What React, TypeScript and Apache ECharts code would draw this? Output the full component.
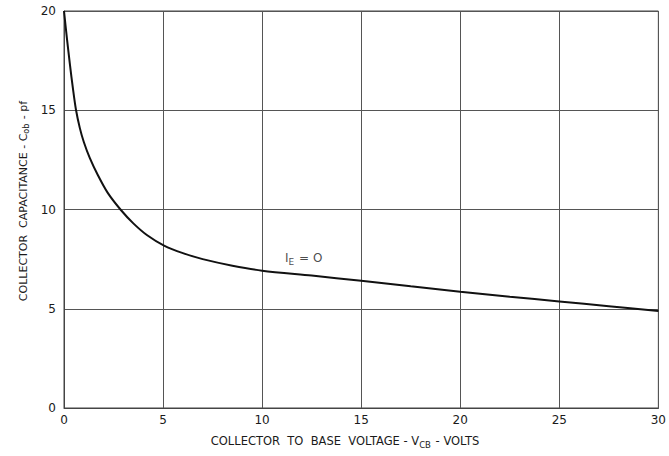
import React, { useEffect, useRef } from "react";
import * as echarts from "echarts";

const vcb = [0, 0.15, 0.3, 0.45, 0.6, 0.8, 1.0, 1.3, 1.7, 2.2, 2.85, 3.5, 4.2, 5.05, 6, 7, 8.5, 10, 12.5, 15, 17.5, 20, 22.5, 25, 27.5, 30];
const cob = [20, 18.6, 17.3, 16.1, 15.05, 14.1, 13.4, 12.6, 11.75, 10.85, 10.0, 9.3, 8.7, 8.18, 7.8, 7.5, 7.17, 6.92, 6.67, 6.41, 6.13, 5.86, 5.61, 5.37, 5.13, 4.89];
const xTicks = [0, 5, 10, 15, 20, 25, 30];
const yTicks = [0, 5, 10, 15, 20];
const curveLabel = { x: 12.1, y: 7.55 };

const FONT = "DejaVu Sans";

const richSub = (size: number) => ({
  t: { fontFamily: FONT, fontSize: size, fill: "#1a1a1a", color: "#1a1a1a" },
  s: { fontFamily: FONT, fontSize: size - 3, fill: "#1a1a1a", color: "#1a1a1a", padding: [7, 1, 0, 0] },
});

export default function App() {
  const ref = useRef<HTMLDivElement>(null);
  useEffect(() => {
    if (!ref.current) return;
    const chart = echarts.init(ref.current, undefined, { renderer: "svg" });
    const gridLine = { show: true, lineStyle: { color: "#555", width: 1 } };
    chart.setOption({
      animation: false,
      backgroundColor: "#fff",
      grid: { left: 64, right: 9, top: 11, bottom: 48, show: true, borderColor: "#444", borderWidth: 1 },
      xAxis: {
        type: "value",
        min: xTicks[0],
        max: xTicks[xTicks.length - 1],
        interval: 5,
        axisLine: { show: true, lineStyle: { color: "#444" } },
        axisTick: { show: false },
        splitLine: gridLine,
        axisLabel: { color: "#1a1a1a", fontFamily: FONT, fontSize: 12, margin: 6 },
      },
      yAxis: {
        type: "value",
        min: yTicks[0],
        max: yTicks[yTicks.length - 1],
        interval: 5,
        axisLine: { show: true, lineStyle: { color: "#444" } },
        axisTick: { show: false },
        splitLine: gridLine,
        axisLabel: { color: "#1a1a1a", fontFamily: FONT, fontSize: 12, margin: 8 },
      },
      graphic: [
        {
          type: "text",
          x: 345,
          y: 441,
          style: {
            text: "{t|COLLECTOR  TO  BASE  VOLTAGE - V}{s|CB}{t| - VOLTS}",
            rich: richSub(11.5),
            align: "center",
            verticalAlign: "middle",
          },
        },
        {
          type: "text",
          x: 23,
          y: 201,
          rotation: Math.PI / 2,
          style: {
            text: "{t|COLLECTOR  CAPACITANCE - C}{s|ob}{t| - pf}",
            rich: richSub(11),
            align: "center",
            verticalAlign: "middle",
          },
        },
      ],
      series: [
        {
          type: "line",
          data: vcb.map((x, i) => [x, cob[i]]),
          showSymbol: false,
          smooth: 0.3,
          lineStyle: { color: "#111", width: 2 },
        },
        {
          type: "scatter",
          silent: true,
          symbol: "circle",
          symbolSize: 1,
          itemStyle: { color: "rgba(0,0,0,0)" },
          data: [[curveLabel.x, curveLabel.y]],
          label: {
            show: true,
            position: "inside",
            formatter: "{t|I}{s|E}{t| = O}",
            rich: richSub(12),
          },
        },
      ],
    });
    return () => chart.dispose();
  }, []);
  return <div ref={ref} style={{ width: 669, height: 456, position: "absolute", left: 0, top: 0 }} />;
}
